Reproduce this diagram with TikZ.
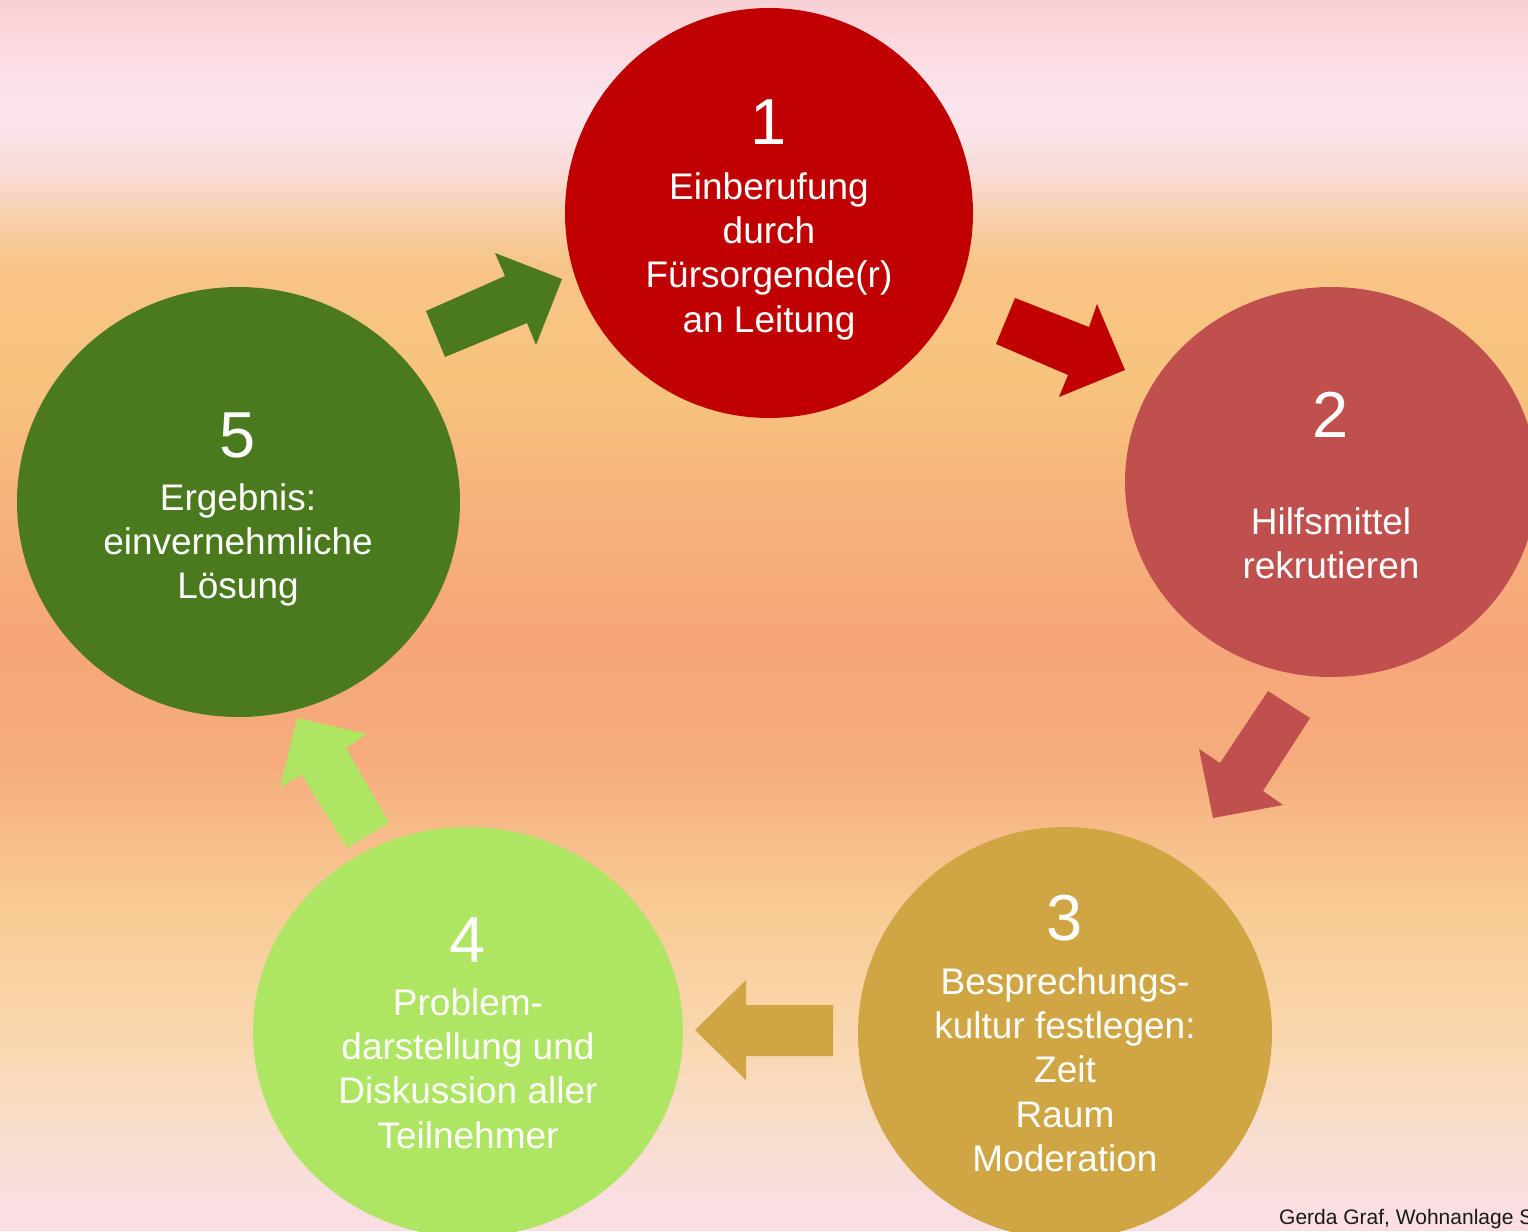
\documentclass[tikz,border=0pt]{standalone}
\usepackage{fontspec}
\setmainfont{Liberation Sans}
\usetikzlibrary{shapes.geometric}
\definecolor{cOne}{HTML}{C00000}
\definecolor{cTwo}{HTML}{C0504D}
\definecolor{cThree}{HTML}{D0A645}
\definecolor{cFour}{HTML}{AEE664}
\definecolor{cFive}{HTML}{4B7A1E}
\definecolor{bgA}{HTML}{F8D0D4}
\definecolor{bgB}{HTML}{FBDDE3}
\definecolor{bgC}{HTML}{FAE5EE}
\definecolor{bgD}{HTML}{F8DCD8}
\definecolor{bgE}{HTML}{F7D0AE}
\definecolor{bgF}{HTML}{F7C486}
\definecolor{bgG}{HTML}{F7C47E}
\definecolor{bgH}{HTML}{F7B27B}
\definecolor{bgI}{HTML}{F6A67A}
\definecolor{bgJ}{HTML}{F6AC7C}
\definecolor{bgK}{HTML}{F7C08C}
\definecolor{bgL}{HTML}{F8CE98}
\definecolor{bgM}{HTML}{F9D8B2}
\definecolor{bgN}{HTML}{F8DDCE}
\definecolor{bgO}{HTML}{FBDEE2}
\begin{document}
\begin{tikzpicture}[x=1pt,y=-1pt,
  circ/.style={ellipse, draw=none, inner sep=0pt, outer sep=0pt},
  num/.style={text=white, font=\fontsize{65}{65}\selectfont, inner sep=0pt},
  txt/.style={text=white, font=\fontsize{37}{44.4}\selectfont, align=center, inner sep=0pt, anchor=north},
  blockarrow/.style={draw=none}]
\useasboundingbox (0,0) rectangle (1528,1231);
\clip (0,0) rectangle (1528,1231);
% background bands
\shade[top color=bgA, bottom color=bgB] (0,0) rectangle (1528,61);
\shade[top color=bgB, bottom color=bgC] (0,60) rectangle (1528,111);
\shade[top color=bgC, bottom color=bgD] (0,110) rectangle (1528,171);
\shade[top color=bgD, bottom color=bgE] (0,170) rectangle (1528,216);
\shade[top color=bgE, bottom color=bgF] (0,215) rectangle (1528,266);
\shade[top color=bgF, bottom color=bgG] (0,265) rectangle (1528,381);
\shade[top color=bgG, bottom color=bgH] (0,380) rectangle (1528,501);
\shade[top color=bgH, bottom color=bgI] (0,500) rectangle (1528,641);
\shade[top color=bgI, bottom color=bgJ] (0,640) rectangle (1528,761);
\shade[top color=bgJ, bottom color=bgK] (0,760) rectangle (1528,851);
\shade[top color=bgK, bottom color=bgL] (0,850) rectangle (1528,931);
\shade[top color=bgL, bottom color=bgM] (0,930) rectangle (1528,1051);
\shade[top color=bgM, bottom color=bgN] (0,1050) rectangle (1528,1131);
\shade[top color=bgN, bottom color=bgO] (0,1130) rectangle (1528,1201);
\fill[bgO] (0,1200) rectangle (1528,1231);
% circles
\node[circ, fill=cOne, minimum width=408pt, minimum height=410pt] (c1) at (769,213) {};
\node[circ, fill=cTwo, minimum width=412pt, minimum height=390pt] (c2) at (1331,482) {};
\node[circ, fill=cThree, minimum width=414pt, minimum height=412pt] (c3) at (1065,1033) {};
\node[circ, fill=cFour, minimum width=430pt, minimum height=410pt] (c4) at (468,1032) {};
\node[circ, fill=cFive, minimum width=443pt, minimum height=430pt] (c5) at (238.5,502) {};
% numbers
\node[num] (n1) at (769,122) {1};
\node[num] (n2) at (1331,415) {2};
\node[num] (n3) at (1065,918) {3};
\node[num] (n4) at (468,940) {4};
\node[num] (n5) at (238,435) {5};
% texts
\node[txt] (t1) at (769,172) {Einberufung\\durch\\Fürsorgende(r)\\an Leitung};
\node[txt] (t2) at (1331,507) {Hilfsmittel\\rekrutieren};
\node[txt] (t3) at (1065,967) {Besprechungs-\\kultur festlegen:\\Zeit\\Raum\\Moderation};
\node[txt] (t4) at (468,988) {Problem-\\darstellung und\\Diskussion aller\\Teilnehmer};
\node[txt] (t5) at (238,483) {Ergebnis:\\einvernehmliche\\Lösung};
% block arrows
\fill[blockarrow, cOne] (1015,298) -- (1089,327) -- (1097,304) -- (1125,370) -- (1059,397) -- (1068,375) -- (996,344) -- cycle;
\fill[blockarrow, cTwo] (1268,691) -- (1310,718) -- (1263,791) -- (1283,805) -- (1213,818) -- (1199,749) -- (1220,763) -- cycle;
\fill[blockarrow, cThree] (833,1005) -- (833,1056) -- (746,1056) -- (746,1080) -- (695,1030) -- (746,980) -- (746,1005) -- cycle;
\fill[blockarrow, cFour] (389,823) -- (347,848) -- (302,775) -- (280,787) -- (297,718) -- (367,734) -- (346,748) -- cycle;
\fill[blockarrow, cFive] (445,357) -- (426,311) -- (505,276) -- (495,253) -- (562,279) -- (536,345) -- (527,323) -- cycle;
% footer
\node[anchor=base west, inner sep=0pt, font=\fontsize{21}{21}\selectfont, text=black!90] (foot) at (1279,1224) {Gerda Graf, Wohnanlage S};
\end{tikzpicture}
\end{document}
